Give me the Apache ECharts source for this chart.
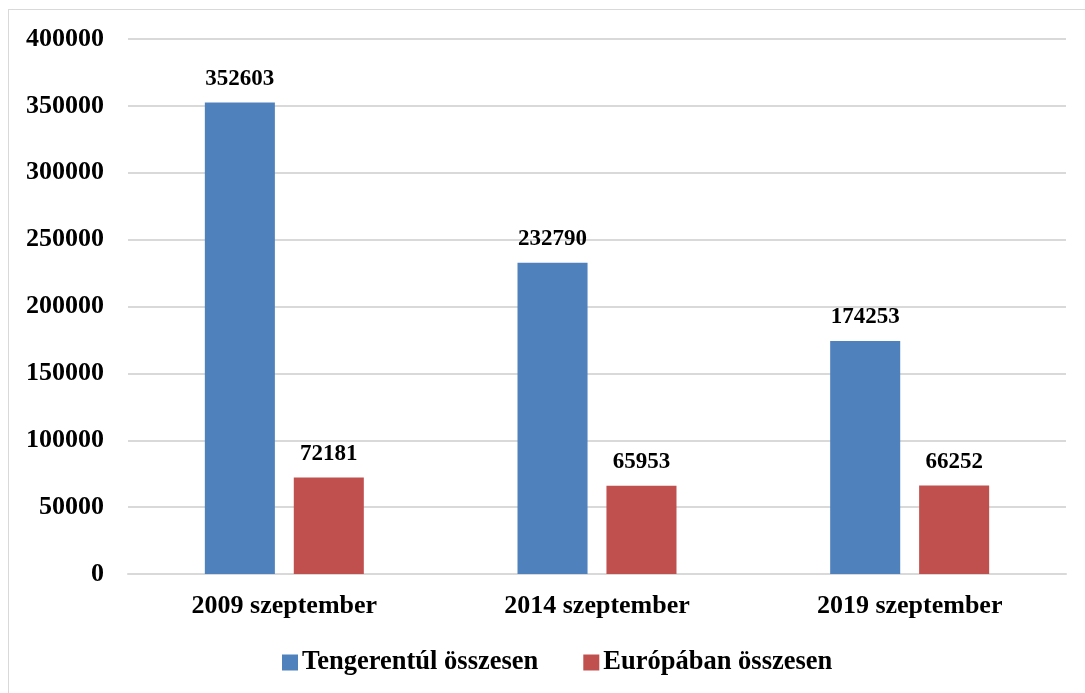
<!DOCTYPE html>
<html>
<head>
<meta charset="utf-8">
<script src="https://cdn.jsdelivr.net/npm/echarts@6/dist/echarts.min.js"></script>
<style>
  html, body { margin: 0; padding: 0; background: #fff; }
  #frame { position: absolute; left: 8px; top: 9px; width: 1090px; height: 690px; border: 1.5px solid #d9d9d9; box-sizing: border-box; }
  #chart { width: 1085px; height: 693px; }
</style>
</head>
<body>
<div id="frame"></div>
<div id="chart"></div>
<script>
const categories = ["2009 szeptember", "2014 szeptember", "2019 szeptember"];
const overseas = [352603, 232790, 174253];
const europe = [72181, 65953, 66252];
const seriesNames = ["Tengerentúl összesen", "Európában összesen"];

const font = "'Liberation Serif', 'Times New Roman', serif";
let chart = echarts.init(document.getElementById("chart"));
chart.setOption({
  animation: false,
  textStyle: { fontFamily: font },
  grid: { left: 128, right: 19, top: 39, bottom: 119 },
  legend: {
    top: 644,
    left: 277,
    itemWidth: 16,
    itemHeight: 16,
    itemGap: 45,
    icon: "rect",
    textStyle: { fontFamily: font, fontSize: 26.5, fontWeight: "bold", color: "#000", padding: [0, 0, 0, -1] },
    data: seriesNames
  },
  xAxis: {
    type: "category",
    data: categories,
    axisLine: { lineStyle: { color: "#d9d9d9", width: 2 } },
    axisTick: { show: false },
    axisLabel: { fontFamily: font, fontSize: 26, fontWeight: "bold", color: "#000", margin: 19 }
  },
  yAxis: {
    type: "value",
    min: 0,
    max: 400000,
    interval: 50000,
    splitLine: { lineStyle: { color: "#d9d9d9", width: 2 } },
    axisLine: { show: false },
    axisTick: { show: false },
    axisLabel: {
      fontFamily: font, fontSize: 26, fontWeight: "bold", color: "#000", margin: 24,
      formatter: function (v) { return String(v); }
    }
  },
  series: [
    {
      name: seriesNames[0],
      type: "bar",
      data: overseas,
      barWidth: "22.4%",
      barGap: "27%",
      itemStyle: { color: "#4f81bd" },
      label: { show: true, position: "top", distance: 12, fontFamily: font, fontSize: 23, fontWeight: "bold", color: "#000" }
    },
    {
      name: seriesNames[1],
      type: "bar",
      data: europe,
      barWidth: "22.4%",
      itemStyle: { color: "#c0504d" },
      label: { show: true, position: "top", distance: 12, fontFamily: font, fontSize: 23, fontWeight: "bold", color: "#000" }
    }
  ]
});
</script>
</body>
</html>
